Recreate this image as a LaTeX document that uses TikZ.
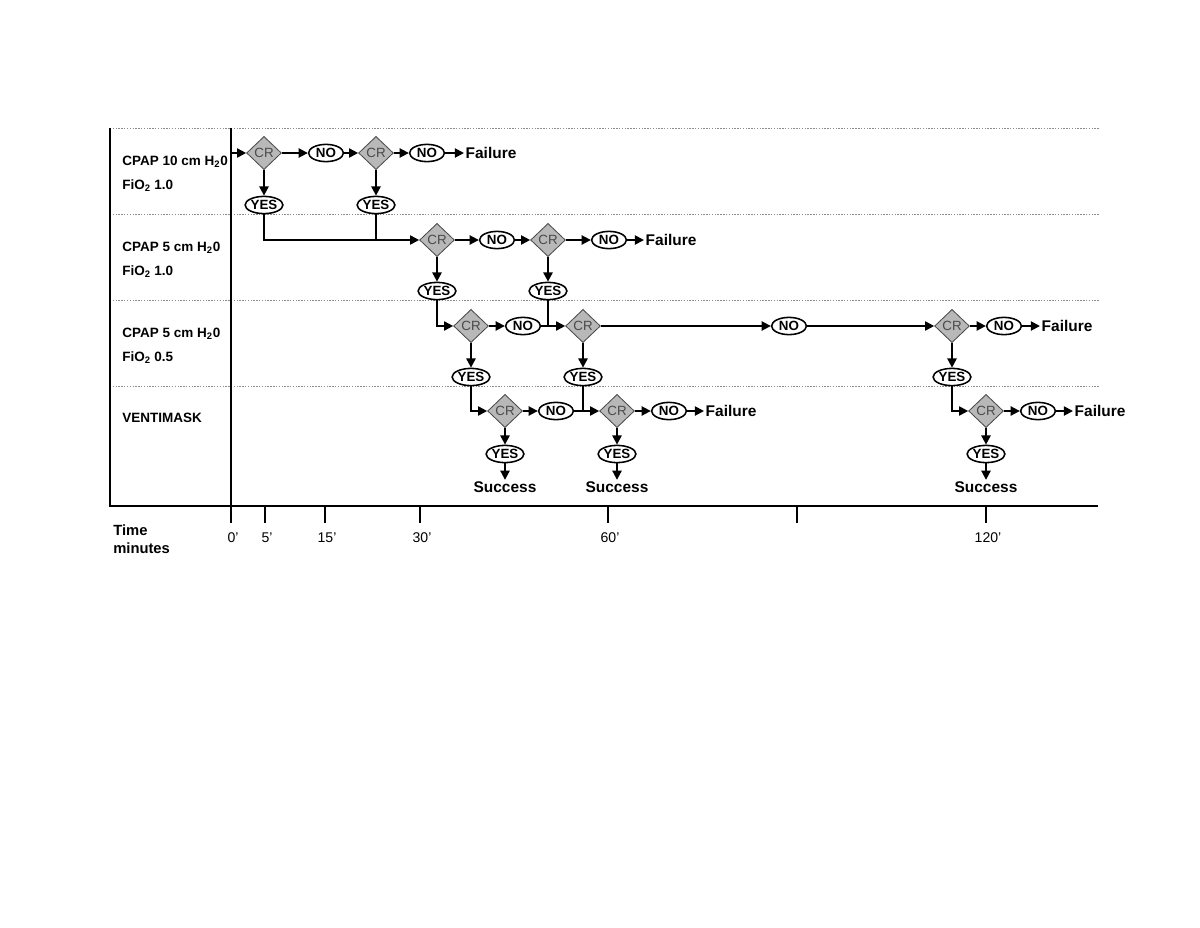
\documentclass[tikz,border=0pt]{standalone}
\usepackage{fontspec}
\setmainfont{Liberation Sans}
\usepackage{xcolor}
\usepackage{tikz}
\usetikzlibrary{arrows.meta,shapes.geometric}
\definecolor{cInk}{HTML}{000000}
\definecolor{cCR}{HTML}{B8B8B8}
\definecolor{cCRText}{HTML}{4A4A4A}
\definecolor{cGrid}{HTML}{8C8C8C}
\tikzset{
  crblk/.style={diamond, draw=cCRText, fill=cCR, line width=0.6pt,
                minimum width=8.7mm, minimum height=8.3mm, inner sep=0pt,
                font=\fontsize{9.5}{10}\selectfont, text=cCRText},
  ansblk/.style={ellipse, draw=cInk, fill=white, line width=1.1pt,
                 minimum width=8.7mm, minimum height=4.3mm, inner sep=0pt,
                 font=\fontsize{9.5}{10}\selectfont\bfseries},
  endlbl/.style={font=\fontsize{11}{13}\selectfont\bfseries, inner sep=1pt},
  rowlbl/.style={font=\fontsize{9.6}{11}\selectfont\bfseries, anchor=base west, inner sep=0pt},
  arr/.style={-{Triangle[length=6.5pt,width=6.5pt]}, line width=1.3pt, cInk},
  link/.style={line width=1.3pt, cInk},
  gridln/.style={cGrid, line width=0.5pt, dash pattern=on 1pt off 1pt},
  axisln/.style={line width=1.8pt, cInk},
  tck/.style={line width=0.9pt, cInk},
  ticklbl/.style={font=\fontsize{10}{12}\selectfont, anchor=center}
}

\begin{document}
\begin{tikzpicture}[x=0.025cm, y=-0.025cm]
\useasboundingbox (0,0) rectangle (1200,927);
% lanes and time axis
\foreach \yy in {128,214,300,386}
  \draw[gridln] (110,\yy) -- (1099,\yy);
\draw[axisln] (110,128) -- (110,506) -- (1098,506);
\draw[axisln] (231,128) -- (231,506);
\foreach \xx/\lab in {231/0',265/5',325/15',420/30',608/60',797/,986/120'} {
  \draw[tck] (\xx,506) -- (\xx,523);
  \node[ticklbl] at (\xx+2,538) {\lab};
}
\node[rowlbl, font=\fontsize{10.5}{12}\selectfont\bfseries] (time) at (113,535) {Time};
\node[rowlbl, font=\fontsize{10.5}{12}\selectfont\bfseries] (minutes) at (113,553) {minutes};
% row labels
\node[rowlbl] (lane1a) at (122,165) {CPAP 10 cm H\textsubscript{2}0};
\node[rowlbl] (lane1b) at (122,189) {FiO\textsubscript{2} 1.0};
\node[rowlbl] (lane2a) at (122,251) {CPAP 5 cm H\textsubscript{2}0};
\node[rowlbl] (lane2b) at (122,275) {FiO\textsubscript{2} 1.0};
\node[rowlbl] (lane3a) at (122,337) {CPAP 5 cm H\textsubscript{2}0};
\node[rowlbl] (lane3b) at (122,361) {FiO\textsubscript{2} 0.5};
\node[rowlbl] (lane4a) at (122,422) {VENTIMASK};
% CPAP 10, FiO2 1.0
\coordinate (start) at (231,153);
\node[crblk] (cr1) at (264,153) {CR};
\node[ansblk] (no1) at (326,153) {NO};
\node[crblk] (cr2) at (376,153) {CR};
\node[ansblk] (no2) at (427,153) {NO};
\node[endlbl, anchor=west] (fail1) at (464,153) {Failure};
\node[ansblk] (yes1) at (264,205) {YES};
\node[ansblk] (yes2) at (376,205) {YES};
% CPAP 5, FiO2 1.0
\node[crblk] (cr3) at (437,240) {CR};
\node[ansblk] (no3) at (497,240) {NO};
\node[crblk] (cr4) at (548,240) {CR};
\node[ansblk] (no4) at (609,240) {NO};
\node[endlbl, anchor=west] (fail2) at (644,240) {Failure};
\node[ansblk] (yes3) at (437,291) {YES};
\node[ansblk] (yes4) at (548,291) {YES};
% CPAP 5, FiO2 0.5
\node[crblk] (cr5) at (471,326) {CR};
\node[ansblk] (no5) at (523,326) {NO};
\node[crblk] (cr6) at (583,326) {CR};
\node[ansblk] (no6) at (789,326) {NO};
\node[crblk] (cr7) at (952,326) {CR};
\node[ansblk] (no7) at (1004,326) {NO};
\node[endlbl, anchor=west] (fail3) at (1040,326) {Failure};
\node[ansblk] (yes5) at (471,377) {YES};
\node[ansblk] (yes6) at (583,377) {YES};
\node[ansblk] (yes7) at (952,377) {YES};
% Ventimask
\node[crblk] (cr8) at (505,411) {CR};
\node[ansblk] (no8) at (556,411) {NO};
\node[crblk] (cr9) at (617,411) {CR};
\node[ansblk] (no9) at (669,411) {NO};
\node[endlbl, anchor=west] (fail4) at (704,411) {Failure};
\node[crblk] (cr10) at (986,411) {CR};
\node[ansblk] (no10) at (1038,411) {NO};
\node[endlbl, anchor=west] (fail5) at (1073,411) {Failure};
\node[ansblk] (yes8) at (505,454) {YES};
\node[ansblk] (yes9) at (617,454) {YES};
\node[ansblk] (yes10) at (986,454) {YES};
\node[endlbl] (succ1) at (505,487) {Success};
\node[endlbl] (succ2) at (617,487) {Success};
\node[endlbl] (succ3) at (986,487) {Success};
% connectors
\draw[arr] (start) -- (cr1);
\draw[arr] (cr1) -- (no1);
\draw[arr] (no1) -- (cr2);
\draw[arr] (cr2) -- (no2);
\draw[arr] (no2) -- (fail1);
\draw[arr] (cr1) -- (yes1);
\draw[arr] (cr2) -- (yes2);
\draw[arr] (yes1) |- (cr3);
\draw[link] (yes2) -- (yes2 |- cr3);
\draw[arr] (cr3) -- (no3);
\draw[arr] (no3) -- (cr4);
\draw[arr] (cr4) -- (no4);
\draw[arr] (no4) -- (fail2);
\draw[arr] (cr3) -- (yes3);
\draw[arr] (cr4) -- (yes4);
\draw[arr] (yes3) |- (cr5);
\draw[arr] (cr5) -- (no5);
\draw[arr] (no5) -- (cr6);
\draw[link] (yes4) -- (yes4 |- cr6);
\draw[arr] (cr6) -- (no6);
\draw[arr] (no6) -- (cr7);
\draw[arr] (cr7) -- (no7);
\draw[arr] (no7) -- (fail3);
\draw[arr] (cr5) -- (yes5);
\draw[arr] (cr6) -- (yes6);
\draw[arr] (cr7) -- (yes7);
\draw[arr] (yes5) |- (cr8);
\draw[arr] (cr8) -- (no8);
\draw[arr] (no8) -- (cr9);
\draw[link] (yes6) -- (yes6 |- cr9);
\draw[arr] (cr9) -- (no9);
\draw[arr] (no9) -- (fail4);
\draw[arr] (yes7) |- (cr10);
\draw[arr] (cr10) -- (no10);
\draw[arr] (no10) -- (fail5);
\draw[arr] (cr8) -- (yes8);
\draw[arr] (cr9) -- (yes9);
\draw[arr] (cr10) -- (yes10);
\draw[arr] (yes8) -- (succ1);
\draw[arr] (yes9) -- (succ2);
\draw[arr] (yes10) -- (succ3);
\end{tikzpicture}
\end{document}
